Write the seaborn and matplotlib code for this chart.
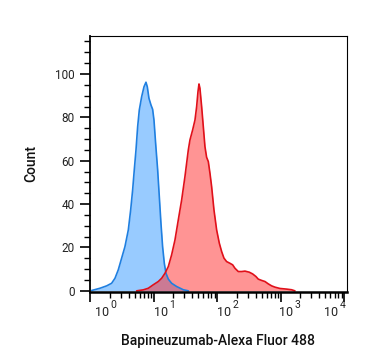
import numpy as np
import pandas as pd
import matplotlib
matplotlib.use("Agg")
import matplotlib.pyplot as plt
from matplotlib.ticker import LogLocator, MultipleLocator, NullFormatter
import seaborn as sns

# isotype control (blue), positions in log10 decades
blue_decade = [0.018, 0.150, 0.255, 0.333, 0.386, 0.438, 0.491, 0.543, 0.596, 0.633,
               0.664, 0.690, 0.717, 0.743, 0.769, 0.806, 0.843, 0.874, 0.895, 0.921,
               0.953, 0.979, 1.000, 1.026, 1.058, 1.084, 1.110, 1.136, 1.163, 1.189,
               1.226, 1.278, 1.357, 1.462, 1.541]
blue_count = [0.15, 1.2, 2.3, 3.5, 5.8, 9.7, 15.1, 20.4, 28.1, 37.3,
              46.5, 55.8, 65.0, 75.7, 83.4, 89.5, 94.1, 96.2, 94.1, 88.8,
              85.7, 83.7, 78.8, 68.1, 55.8, 43.5, 31.2, 20.4, 12.7, 8.1,
              5.4, 3.5, 2.0, 0.5, 0.0]

# Bapineuzumab stained (red)
red_decade = [0.727, 0.832, 0.911, 0.989, 1.068, 1.121, 1.173, 1.226, 1.278, 1.331,
              1.383, 1.436, 1.488, 1.541, 1.567, 1.609, 1.646, 1.672, 1.693, 1.709,
              1.724, 1.751, 1.777, 1.803, 1.829, 1.856, 1.882, 1.908, 1.945, 1.987,
              2.029, 2.066, 2.102, 2.144, 2.197, 2.239, 2.276, 2.328, 2.381, 2.433,
              2.501, 2.554, 2.606, 2.643, 2.696, 2.748, 2.801, 2.853, 2.906, 2.984,
              3.089, 3.168, 3.220]
red_count = [0.0, 0.46, 1.2, 2.8, 4.3, 5.8, 8.1, 11.2, 16.6, 23.5,
             32.7, 41.9, 52.7, 65.0, 69.6, 74.2, 78.8, 84.9, 91.8, 95.4,
             93.4, 84.9, 75.7, 66.5, 61.6, 59.6, 54.2, 48.1, 37.3, 28.1,
             22.0, 18.1, 15.1, 13.5, 12.7, 12.0, 10.4, 8.9, 8.9, 9.1,
             8.6, 7.8, 6.6, 5.4, 4.8, 4.3, 3.2, 2.3, 1.7, 1.1,
             0.8, 0.5, 0.0]

x_ticks = [1, 10, 100, 1000, 10000]
x_exponents = ["0", "1", "2", "3", "4"]
y_ticks = [0, 20, 40, 60, 80, 100]

sns.set_style("ticks")
plt.rcParams["font.family"] = ["Roboto", "DejaVu Sans"]

blue = pd.DataFrame({"x": 10 ** np.array(blue_decade), "y": blue_count})
red = pd.DataFrame({"x": 10 ** np.array(red_decade), "y": red_count})

fig = plt.figure(figsize=(3.67, 3.64), dpi=100)
ax = fig.add_axes([0.245, 0.198, 0.7005, 0.703])

ax.fill_between(blue["x"], blue["y"], color="#3399ff", alpha=0.5, lw=0)
ax.fill_between(red["x"], red["y"], color="#ff2a2a", alpha=0.5, lw=0)
sns.lineplot(data=blue, x="x", y="y", ax=ax, color="#1f7fe0", lw=1.2, sort=False)
sns.lineplot(data=red, x="x", y="y", ax=ax, color="#e0101a", lw=1.2, sort=False)

ax.set_xscale("log")
ax.set_xlim(0.98, 10 ** 4.04)
ax.set_ylim(-0.5, 117.5)
ax.set_xticks(x_ticks)
ax.set_xticklabels([])
ax.xaxis.set_minor_locator(LogLocator(base=10, subs=np.arange(2, 10), numticks=20))
ax.xaxis.set_minor_formatter(NullFormatter())
ax.set_yticks(y_ticks)
ax.yaxis.set_minor_locator(MultipleLocator(5))

ax.tick_params(axis="both", which="major", direction="out", length=7, width=1.2,
               color="black", labelsize=8.5, pad=4, labelcolor="#222222")
ax.tick_params(axis="both", which="minor", direction="out", length=4, width=1.0,
               color="black")

# "10" with raised exponent, FlowJo style
shifts = [4.5, 0, 0, -2, -20]
for xt, ex, dx in zip(x_ticks, x_exponents, shifts):
    tr = ax.get_xaxis_transform()
    ax.annotate("10", xy=(xt, 0), xycoords=tr, xytext=(dx, -20.5),
                textcoords="offset pixels", ha="left", va="center",
                fontsize=9, color="#222222")
    ax.annotate(ex, xy=(xt, 0), xycoords=tr, xytext=(dx + 15.5, -13.5),
                textcoords="offset pixels", ha="left", va="center",
                fontsize=7.5, color="#222222")

for side in ["top", "right"]:
    ax.spines[side].set_linewidth(0.8)
ax.spines["left"].set_linewidth(1.3)
ax.spines["bottom"].set_linewidth(1.8)
for sp in ax.spines.values():
    sp.set_color("black")

ax.set_xlabel("Bapineuzumab-Alexa Fluor 488", fontsize=10, fontweight="medium",
              labelpad=19, color="#111111")
ax.set_ylabel("Count", fontsize=10, fontweight="medium", labelpad=12,
              color="#111111")

fig.savefig("out.png", dpi=100)
